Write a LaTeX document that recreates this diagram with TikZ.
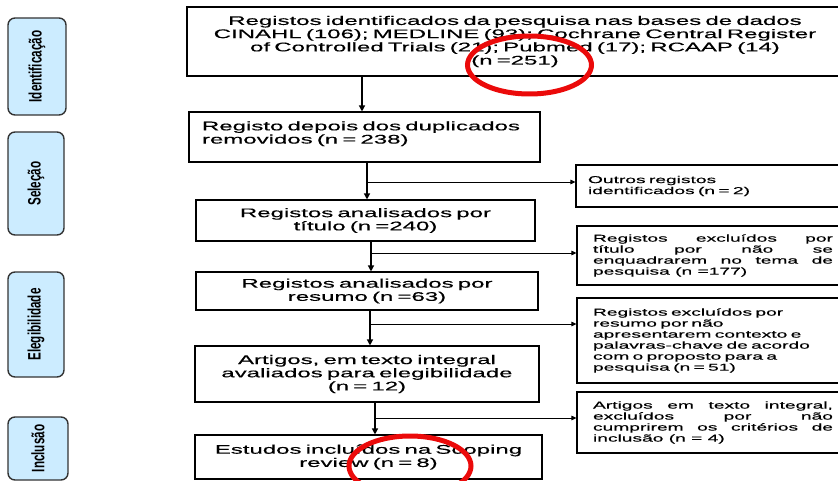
\documentclass[tikz,border=0pt]{standalone}
\usepackage{fontspec}
\setmainfont{Liberation Sans}
\newfontfamily\mainf[FakeStretch=1.92,FakeBold=0.4]{Liberation Sans}
\newfontfamily\labf[FakeStretch=0.65]{Liberation Sans Bold}
\usetikzlibrary{arrows.meta}
\definecolor{lblue}{RGB}{204,236,255}
\definecolor{mred}{RGB}{235,10,10}
\begin{document}
\begin{tikzpicture}[x=1pt,y=-1pt,
  box/.style={draw,line width=1.1pt,inner ysep=0pt,inner xsep=10pt,
    font=\mainf\fontsize{12.5}{13.2}\selectfont,align=center},
  sbox/.style={draw,line width=1.1pt,inner ysep=0pt,inner xsep=16pt,text width=240pt,
    font=\mainf\fontsize{10}{11}\selectfont},
  lab/.style={draw=black!80,line width=1.4pt,fill=lblue,rounded corners=7pt,
    rotate=90,inner sep=0pt,font=\labf\fontsize{18}{19}\selectfont},
  arr/.style={line width=1.3pt,-{Triangle[length=6pt,width=6pt]}},
  harr/.style={line width=0.9pt,-{Triangle[length=5pt,width=4.5pt]}},
  ring/.style={draw=mred,line width=5pt}]
\useasboundingbox (0,0) rectangle (838,481);
% phase labels
\node[lab,minimum width=97pt,minimum height=58pt] (l1) at (37,66.5) {Identificação};
\node[lab,minimum width=103pt,minimum height=56pt] (l2) at (36,183.5) {Seleção};
\node[lab,minimum width=105pt,minimum height=56pt] (l3) at (36,324.5) {Elegibilidade};
\node[lab,minimum width=63pt,minimum height=60pt] (l4) at (38,448.5) {Inclusão};
% main column
\node[box,text width=636pt,minimum height=69pt] (top) at (515,41.5)
  {Registos identificados da pesquisa nas bases de dados\\
   CINAHL (106); MEDLINE (93); Cochrane Central Register\\
   of Controlled Trials (21); Pubmed (17); RCAAP (14)\\
   (n =251)};
\node[box,text width=325pt,inner xsep=13pt,minimum height=50pt,align=left] (b2) at (364.5,137)
  {Registo depois dos duplicados\\removidos (n = 238)\\[-4pt]\mbox{}};
\node[box,text width=319pt,minimum height=41pt] (b3) at (365.5,220.5)
  {Registos analisados por\\título (n =240)};
\node[box,text width=322pt,minimum height=38pt] (b4) at (367,291)
  {Registos analisados por\\resumo (n =63)};
\node[box,text width=324pt,minimum height=56pt] (b5) at (367,374)
  {Artigos, em texto integral\\avaliados para elegibilidade\\(n = 12)};
\node[box,text width=327pt,minimum height=44pt] (b6) at (368.5,457)
  {Estudos incluídos na Scoping\\review (n = 8)};
% side boxes
\node[sbox,inner xsep=12pt,text width=248pt,minimum height=42pt,align=left] (o1) at (712,186)
  {Outros registos\\identificados (n = 2)};
\node[sbox,minimum height=59pt,align=justify] (e1) at (713,255.5)
  {Registos excluídos por\linebreak título por não se\linebreak enquadrarem no tema de\linebreak pesquisa (n =177)};
\node[sbox,minimum height=85pt,align=left] (e2) at (713,340.5)
  {Registos excluídos por\\resumo por não\\apresentarem contexto e\\palavras-chave de acordo\\com o proposto para a\\pesquisa (n = 51)};
\node[sbox,minimum height=61pt,align=justify] (e3) at (713,422.5)
  {Artigos em texto integral,\linebreak excluídos por não\linebreak cumprirem os critérios de\linebreak inclusão (n = 4)};
% connectors
\coordinate (v1) at (362,0);
\coordinate (v2) at (367,0);
\coordinate (v3) at (371,0);
\coordinate (v4) at (370,0);
\coordinate (v5) at (375,0);
\draw[arr] (v1 |- top.south) -- (v1 |- b2.north);
\draw[arr] (v2 |- b2.south) -- (v2 |- b3.north);
\draw[arr] (v3 |- b3.south) -- (v3 |- b4.north);
\draw[arr] (v4 |- b4.south) -- (v4 |- b5.north);
\draw[arr] (v5 |- b5.south) -- (v5 |- b6.north);
\coordinate (h1) at (367,182);
\coordinate (h2) at (371,253);
\coordinate (h3) at (370,324);
\coordinate (h4) at (375,418);
\draw[harr] (h1) -- (h1 -| o1.west);
\draw[harr] (h2) -- (h2 -| e1.west);
\draw[harr] (h3) -- (h3 -| e2.west);
\draw[harr] (h4) -- (h4 -| e3.west);
% red highlight rings
\draw[ring] (529.5,65) ellipse [x radius=62pt,y radius=29pt];
\draw[ring] (410,466) ellipse [x radius=61pt,y radius=30pt];
\end{tikzpicture}
\end{document}
